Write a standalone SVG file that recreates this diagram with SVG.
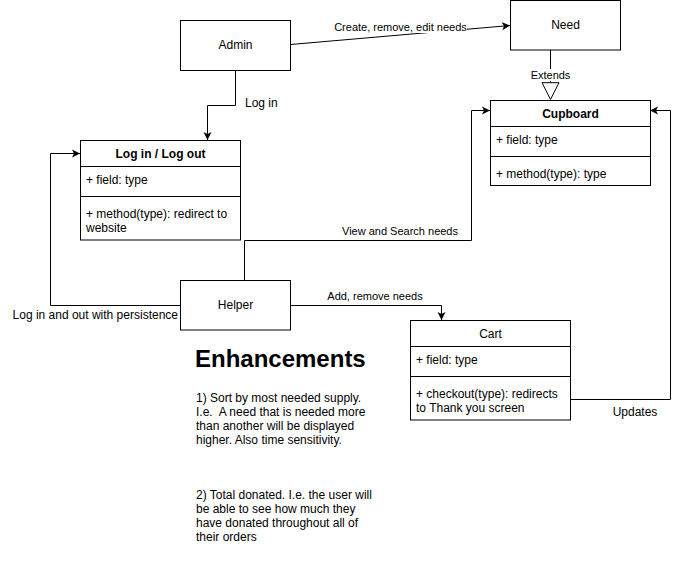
<svg xmlns="http://www.w3.org/2000/svg" width="679" height="566" viewBox="0 0 679 566">
<style>
text{font-family:"Liberation Sans",Arial,sans-serif;fill:#000}
.n{font-size:12px}
.c{text-anchor:middle}
.b{font-weight:bold}
.e{font-size:11px}
.box{fill:#fff;stroke:#000;stroke-width:1}
.ln{fill:none;stroke:#000;stroke-width:1}
.bg{fill:#fff}
</style>
<defs>
<marker id="arr" markerUnits="userSpaceOnUse" markerWidth="8" markerHeight="9" viewBox="0 0 8 9" refX="8" refY="4.5" orient="auto">
<path d="M0,0.5 L8,4.5 L0,8.5 L2,4.5 Z" fill="#000"/>
</marker>
</defs>
<rect width="679" height="566" fill="#fff"/>
<g id="connectors">
<path class="ln" d="M290.5,44.5 L510,25.5" marker-end="url(#arr)"/>
<rect class="bg" x="333" y="20" width="134" height="13"/>
<text class="e c" x="400.5" y="30.5">Create, remove, edit needs</text>
<path class="ln" d="M235.5,70 V105.5 H207.5 V140" marker-end="url(#arr)"/>
<text class="n" x="245" y="106.5">Log in</text>
<path class="ln" d="M550.5,50 V82.7"/>
<polygon points="542,82.7 559,82.7 550.5,99.5" fill="#fff" stroke="#000"/>
<rect class="bg" x="529" y="69" width="43" height="12"/>
<text class="e c" x="550.5" y="79">Extends</text>
<path class="ln" d="M244.5,280 V240.5 H471.5 V110.5 H490" marker-end="url(#arr)"/>
<text class="e c" x="400" y="235">View and Search needs</text>
<path class="ln" d="M180,305.5 H50.5 V153.5 H80" marker-end="url(#arr)"/>
<text class="n" x="178" y="318.5" text-anchor="end">Log in and out with persistence</text>
<path class="ln" d="M290,305.5 H441.5 V320" marker-end="url(#arr)"/>
<text class="e c" x="375" y="300">Add, remove needs</text>
<path class="ln" d="M570,399.5 H670.5 V110.5 H650" marker-end="url(#arr)"/>
<text class="n c" x="635" y="416">Updates</text>
</g>
<g id="admin">
<rect class="box" x="180.5" y="20.5" width="110" height="50"/>
<text class="n c" x="235.5" y="49">Admin</text>
</g>
<g id="need">
<rect class="box" x="510.5" y="0.5" width="110" height="49.5"/>
<text class="n c" x="565.5" y="29">Need</text>
</g>
<g id="cupboard">
<rect class="box" x="490.5" y="100.5" width="160" height="85"/>
<line class="ln" x1="490.5" y1="126.5" x2="650.5" y2="126.5"/>
<line class="ln" x1="490.5" y1="156.5" x2="650.5" y2="156.5"/>
<text class="n c b" x="570.5" y="117.5">Cupboard</text>
<text class="n" x="496" y="143.5">+ field: type</text>
<text class="n" x="496" y="177.5">+ method(type): type</text>
</g>
<g id="login">
<rect class="box" x="80.5" y="140.5" width="160" height="99.5"/>
<line class="ln" x1="80.5" y1="166.5" x2="240.5" y2="166.5"/>
<line class="ln" x1="80.5" y1="196.5" x2="240.5" y2="196.5"/>
<text class="n c b" x="160.5" y="157.5">Log in / Log out</text>
<text class="n" x="86" y="184">+ field: type</text>
<text class="n" x="86" y="217.5">+ method(type): redirect to</text>
<text class="n" x="86" y="231.5">website</text>
</g>
<g id="helper">
<rect class="box" x="180.5" y="280.5" width="110" height="49.5"/>
<text class="n c" x="235.5" y="309">Helper</text>
</g>
<g id="cart">
<rect class="box" x="410.5" y="320.5" width="160" height="99.5"/>
<line class="ln" x1="410.5" y1="346.5" x2="570.5" y2="346.5"/>
<line class="ln" x1="410.5" y1="376.5" x2="570.5" y2="376.5"/>
<text class="n c" x="490.5" y="337.5">Cart</text>
<text class="n" x="416" y="364">+ field: type</text>
<text class="n" x="416" y="397.5">+ checkout(type): redirects</text>
<text class="n" x="416" y="411.5">to Thank you screen</text>
</g>
<g id="enhancements">
<text x="195" y="367" style="font-size:24px;font-weight:bold">Enhancements</text>
<text class="n" x="196" y="402">1) Sort by most needed supply.</text>
<text class="n" x="196" y="416" xml:space="preserve">I.e.  A need that is needed more</text>
<text class="n" x="196" y="430">than another will be displayed</text>
<text class="n" x="196" y="444">higher. Also time sensitivity.</text>
<text class="n" x="196" y="499">2) Total donated. I.e. the user will</text>
<text class="n" x="196" y="513">be able to see how much they</text>
<text class="n" x="196" y="527">have donated throughout all of</text>
<text class="n" x="196" y="541">their orders</text>
</g>
</svg>
